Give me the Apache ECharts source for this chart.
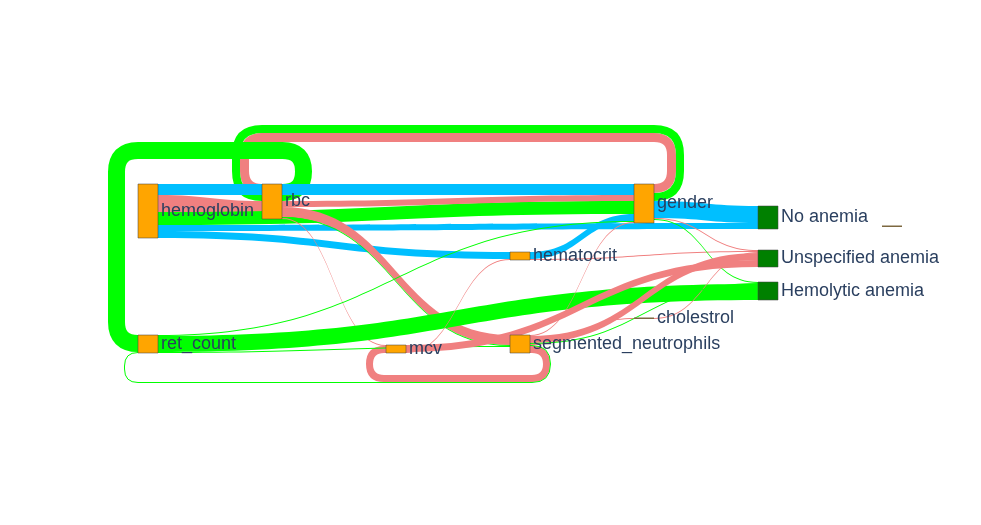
<!DOCTYPE html>
<html><head><meta charset="utf-8">
<script src="https://cdn.jsdelivr.net/npm/echarts@6/dist/echarts.min.js"></script>
<style>html,body{margin:0;padding:0;background:#fff;}#chart{width:981px;height:525px;}</style>
</head><body><div id="chart"></div>
<script>
// ---------------- data ----------------
const classNames = ['No anemia', 'Unspecified anemia', 'Hemolytic anemia'];
const featureNames = ['hemoglobin', 'rbc', 'gender', 'hematocrit', 'cholestrol', 'ret_count', 'mcv', 'segmented_neutrophils', ''];

const linkSource = ['gender','gender','rbc','segmented_neutrophils','segmented_neutrophils',
  'hemoglobin','hemoglobin','hemoglobin','hemoglobin','hemoglobin',
  'rbc','rbc','rbc','rbc','hematocrit','hematocrit',
  'gender','gender','gender',
  'ret_count','ret_count','ret_count',
  'mcv','mcv','segmented_neutrophils','segmented_neutrophils','segmented_neutrophils','cholestrol','segmented_neutrophils'];
const linkTarget = ['rbc','rbc','ret_count','mcv','ret_count',
  'gender','rbc','gender','No anemia','hematocrit',
  'gender','segmented_neutrophils','segmented_neutrophils','mcv','gender','Unspecified anemia',
  'No anemia','Unspecified anemia','Hemolytic anemia',
  'gender','segmented_neutrophils','Hemolytic anemia',
  'Unspecified anemia','hematocrit','Unspecified anemia','gender','cholestrol','Unspecified anemia','Hemolytic anemia'];
const linkValue = [9, 8, 17, 7, 1,
  11, 17, 13, 6, 7,
  6, 10, 1, 1, 7, 1,
  17, 1, 1,
  1, 1, 16,
  7, 1, 7, 1, 1, 1, 1];
const linkClass = ['Unspecified anemia','Hemolytic anemia','Hemolytic anemia','Unspecified anemia','Hemolytic anemia',
  'No anemia','Unspecified anemia','Hemolytic anemia','No anemia','No anemia',
  'Unspecified anemia','Unspecified anemia','Hemolytic anemia','Unspecified anemia','No anemia','Unspecified anemia',
  'No anemia','Unspecified anemia','Hemolytic anemia',
  'Hemolytic anemia','Hemolytic anemia','Hemolytic anemia',
  'Unspecified anemia','Unspecified anemia','Unspecified anemia','Unspecified anemia','Unspecified anemia','Unspecified anemia','Hemolytic anemia'];

// ---------------- layout / style ----------------
const nodeColumn = {'hemoglobin':0,'ret_count':0,'rbc':1,'mcv':2,'hematocrit':3,'segmented_neutrophils':3,
  'gender':4,'cholestrol':4,'No anemia':5,'Unspecified anemia':5,'Hemolytic anemia':5,'':6};
const nodeTop = {'hemoglobin':74,'ret_count':225,'rbc':74,'mcv':235,'hematocrit':142,'segmented_neutrophils':225,
  'gender':74,'cholestrol':208,'No anemia':96,'Unspecified anemia':140,'Hemolytic anemia':172,'':116};
const classColor = {'No anemia':'#00BFFF','Unspecified anemia':'#F08080','Hemolytic anemia':'#00FF00'};
const NODE_W = 20, TOP_GAP = 25, BOTTOM_GAP = 22, LOOP_OFF = 13, MID = 150;

// ---------------- derived structure ----------------
const nodeNames = featureNames.concat(classNames);
const N = nodeNames.length, L = linkValue.length;
const srcIdx = linkSource.map(n => nodeNames.indexOf(n));
const tgtIdx = linkTarget.map(n => nodeNames.indexOf(n));
const nCol = nodeNames.map(n => nodeColumn[n]);
const nTop = nodeNames.map(n => nodeTop[n]);
const inSum = new Array(N).fill(0), outSum = new Array(N).fill(0);
for (let i = 0; i < L; i++) { outSum[srcIdx[i]] += linkValue[i]; inSum[tgtIdx[i]] += linkValue[i]; }
const nodeVal = nodeNames.map((_, k) => Math.max(inSum[k], outSum[k]));

const circ = [], side = [], lane = new Array(L).fill(0);
const span = i => nCol[srcIdx[i]] - nCol[tgtIdx[i]];
for (let i = 0; i < L; i++) {
  circ[i] = nCol[srcIdx[i]] >= nCol[tgtIdx[i]];
  side[i] = circ[i] ? ((nTop[srcIdx[i]] + nodeVal[srcIdx[i]] / 2) > MID ? 'bottom' : 'top') : null;
}
['top', 'bottom'].forEach(sd => {
  const ids = [...Array(L).keys()].filter(i => side[i] === sd);
  ids.sort((a, b) => (span(a) - span(b)) || (a - b));
  ids.forEach((i, r) => { lane[i] = r; });
});
const loopBase = [], levelStack = [], srcStack = [], tgtStack = [];
for (let i = 0; i < L; i++) {
  if (!circ[i]) continue;
  const c0 = nCol[tgtIdx[i]], c1 = nCol[srcIdx[i]];
  const inRange = [...Array(N).keys()].filter(k => nCol[k] >= c0 && nCol[k] <= c1);
  loopBase[i] = side[i] === 'top' ? Math.min(...inRange.map(k => nTop[k]))
                                  : Math.max(...inRange.map(k => nTop[k] + nodeVal[k]));
  let ls = 0, ss = 0, ts = 0;
  for (let j = 0; j < L; j++) {
    if (j === i || side[j] !== side[i] || lane[j] >= lane[i]) continue;
    const d0 = nCol[tgtIdx[j]], d1 = nCol[srcIdx[j]];
    if (d0 <= c1 && d1 >= c0) ls += linkValue[j];
    if (srcIdx[j] === srcIdx[i]) ss += linkValue[j];
    if (tgtIdx[j] === tgtIdx[i]) ts += linkValue[j];
  }
  levelStack[i] = ls; srcStack[i] = ss; tgtStack[i] = ts;
}
// attachment stacking
const srcTop = new Array(L), tgtTop = new Array(L);
for (let k = 0; k < N; k++) {
  const outs = [...Array(L).keys()].filter(i => srcIdx[i] === k);
  const oTop = outs.filter(i => side[i] === 'top').sort((a, b) => lane[a] - lane[b]);
  const oFwd = outs.filter(i => !circ[i]).sort((a, b) => (nTop[tgtIdx[a]] - nTop[tgtIdx[b]]) || (a - b));
  const oBot = outs.filter(i => side[i] === 'bottom').sort((a, b) => lane[b] - lane[a]);
  let y = nTop[k];
  [...oTop, ...oFwd, ...oBot].forEach(i => { srcTop[i] = y; y += linkValue[i]; });
}
for (let k = 0; k < N; k++) {
  const ins = [...Array(L).keys()].filter(i => tgtIdx[i] === k);
  const iTop = ins.filter(i => side[i] === 'top').sort((a, b) => lane[a] - lane[b]);
  const iFwd = ins.filter(i => !circ[i]).sort((a, b) =>
    ((srcTop[a] + linkValue[a] / 2) - (srcTop[b] + linkValue[b] / 2)) || (a - b));
  const iBot = ins.filter(i => side[i] === 'bottom').sort((a, b) => lane[b] - lane[a]);
  let y = nTop[k];
  [...iTop, ...iFwd, ...iBot].forEach(i => { tgtTop[i] = y; y += linkValue[i]; });
}

// ---------------- rendering ----------------
function helpers(api) {
  return {
    X: c => api.coord([c, 0])[0],
    Y: u => api.coord([0, u])[1],
    S: v => Math.abs(api.size([0, v])[1])
  };
}
function renderLink(params, api) {
  const i = params.dataIndex;
  const { X, Y, S } = helpers(api);
  const v = linkValue[i], w = S(v);
  const color = classColor[linkClass[i]];
  const xs = X(nCol[srcIdx[i]]) + NODE_W, xt = X(nCol[tgtIdx[i]]);
  if (!circ[i]) {
    const y0 = Y(srcTop[i]), y1 = Y(tgtTop[i]);
    const xm = (xs + xt) / 2;
    const d = `M${xs},${y0}C${xm},${y0} ${xm},${y1} ${xt},${y1}L${xt},${y1 + w}C${xm},${y1 + w} ${xm},${y0 + w} ${xs},${y0 + w}Z`;
    return { type: 'path', shape: { pathData: d }, style: { fill: color, stroke: null } };
  }
  const ys = Y(srcTop[i]) + w / 2, yt = Y(tgtTop[i]) + w / 2;
  const offR = LOOP_OFF + S(srcStack[i]) + w / 2;
  const offL = LOOP_OFF + S(tgtStack[i]) + w / 2;
  const xR = xs + offR, xL = xt - offL;
  let d;
  if (side[i] === 'top') {
    const yl = Y(loopBase[i]) - TOP_GAP - S(levelStack[i]) - w / 2;
    const rR = Math.min(offR, (ys - yl) / 2), rL = Math.min(offL, (yt - yl) / 2);
    d = `M${xs},${ys}L${xR - rR},${ys}Q${xR},${ys} ${xR},${ys - rR}L${xR},${yl + rR}Q${xR},${yl} ${xR - rR},${yl}` +
        `L${xL + rL},${yl}Q${xL},${yl} ${xL},${yl + rL}L${xL},${yt - rL}Q${xL},${yt} ${xL + rL},${yt}L${xt},${yt}`;
  } else {
    const yl = Y(loopBase[i]) + BOTTOM_GAP + S(levelStack[i]) + w / 2;
    const rR = Math.min(offR, (yl - ys) / 2), rL = Math.min(offL, (yl - yt) / 2);
    d = `M${xs},${ys}L${xR - rR},${ys}Q${xR},${ys} ${xR},${ys + rR}L${xR},${yl - rR}Q${xR},${yl} ${xR - rR},${yl}` +
        `L${xL + rL},${yl}Q${xL},${yl} ${xL},${yl - rL}L${xL},${yt + rL}Q${xL},${yt} ${xL + rL},${yt}L${xt},${yt}`;
  }
  return { type: 'path', shape: { pathData: d }, style: { fill: null, stroke: color, lineWidth: w } };
}
function renderNode(params, api) {
  const k = params.dataIndex;
  const { X, Y, S } = helpers(api);
  const x = X(nCol[k]), y = Y(nTop[k]), h = S(nodeVal[k]);
  const isClass = classNames.indexOf(nodeNames[k]) >= 0;
  const thin = h < 1.5;
  return {
    type: 'group',
    children: [
      { type: 'rect', shape: { x: x, y: thin ? y - 0.5 : y, width: NODE_W, height: thin ? 1.5 : h },
        style: { fill: thin ? '#7d6840' : (isClass ? '#008000' : '#FFA500'),
                 stroke: thin ? null : 'rgba(68,68,68,0.75)', lineWidth: 0.7 } },
      { type: 'text', x: x + NODE_W + 3, y: y + h / 2,
        style: { text: nodeNames[k], fill: '#2a3f5f', fontSize: 18,
                 fontFamily: '"Liberation Sans", Arial, sans-serif',
                 align: 'left', verticalAlign: 'middle', textAlign: 'left', textVerticalAlign: 'middle' } }
    ]
  };
}

const chart = echarts.init(document.getElementById('chart'), null, { renderer: 'canvas' });
chart.setOption({
  animation: false,
  backgroundColor: '#fff',
  grid: { left: 138, right: 99, top: 110, height: 300 },
  xAxis: { type: 'value', min: 0, max: 6, show: false },
  yAxis: { type: 'value', min: 0, max: 300, inverse: true, show: false },
  series: [
    { type: 'custom', silent: true, z: 1, renderItem: renderLink, data: linkValue.map(() => [0, 0]) },
    { type: 'custom', silent: true, z: 2, renderItem: renderNode, data: nodeNames.map(() => [0, 0]) }
  ]
});
</script>
</body></html>
